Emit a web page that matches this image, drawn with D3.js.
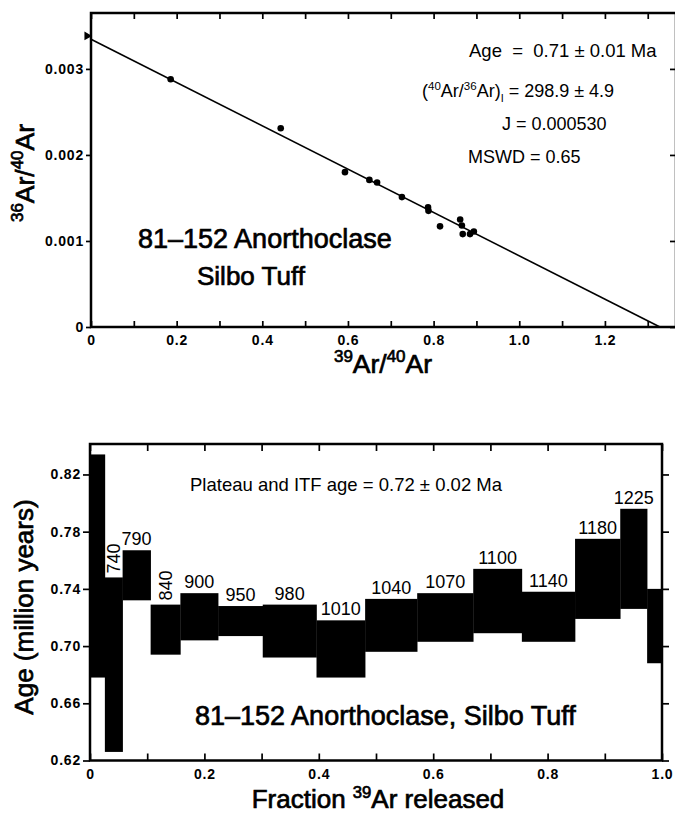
<!DOCTYPE html>
<html>
<head>
<meta charset="utf-8">
<title>81-152 Anorthoclase, Silbo Tuff</title>
<script src="https://d3js.org/d3.v7.min.js"></script>
<style>
  body { margin: 0; background: #fff; }
  svg { display: block; font-family: "Liberation Sans", Arial, Helvetica, sans-serif; }
  .axis path { display: none; }
  .axis line { stroke: #000; stroke-width: 1.7; }
  .axis text { font-size: 14px; font-weight: bold; fill: #000; letter-spacing: 0.8px; }
  .frame { fill: none; stroke: #000; stroke-width: 2.5; }
  .label { fill: #000; white-space: pre; }
  .big { stroke: #000; stroke-width: 0.7px; }
</style>
</head>
<body>
<svg width="675" height="814"></svg>
<script>
// isochron points (39Ar/40Ar, 36Ar/40Ar)
const isoX = [0.186, 0.443, 0.593, 0.650, 0.668, 0.726, 0.787, 0.788, 0.815, 0.862, 0.866, 0.868, 0.885, 0.894];
const isoY = [0.00288, 0.00231, 0.00180, 0.00171, 0.00168, 0.00151, 0.00139, 0.00135, 0.00117, 0.00125, 0.00118, 0.00108, 0.00108, 0.00111];
const fitYIntercept = 1 / 298.9;   // (36Ar/40Ar) at x = 0
const fitXIntercept = 1.3285;
const atmRatio = 1 / 295.5;

// age spectrum steps
const stepEnd = [0.026, 0.057, 0.106, 0.158, 0.224, 0.302, 0.396, 0.481, 0.572, 0.670, 0.755, 0.848, 0.927, 0.974, 1.0];
const stepHi  = [0.834, 0.748, 0.767, 0.729, 0.737, 0.728, 0.729, 0.718, 0.733, 0.737, 0.754, 0.738, 0.775, 0.796, 0.740];
const stepLo  = [0.678, 0.626, 0.732, 0.694, 0.704, 0.707, 0.692, 0.678, 0.696, 0.703, 0.709, 0.703, 0.719, 0.726, 0.688];
const stepTemp = ["", "740", "790", "840", "900", "950", "980", "1010", "1040", "1070", "1100", "1140", "1180", "1225", ""];
const verticalTemps = ["740", "840"];

const topXTicks = d3.range(0, 14).map(i => i / 10);
const topYTicks = [0, 0.001, 0.002, 0.003];
const botXTicks = d3.range(0, 11).map(i => i / 10);
const botYTicks = [0.62, 0.66, 0.70, 0.74, 0.78, 0.82];

const svg = d3.select("svg");

// little helper for text with superscripts / subscripts
function richText(g, x, y, parts, size, anchor, cls) {
  const t = g.append("text").attr("class", "label " + (cls || ""))
    .attr("x", x).attr("y", y)
    .attr("font-size", size)
    .attr("text-anchor", anchor || "start");
  parts.forEach(p => {
    const s = t.append("tspan").text(p[0]);
    if (p[1] === "sup") s.attr("font-size", size * 0.64).attr("baseline-shift", size * 0.4);
    if (p[1] === "sub") s.attr("font-size", size * 0.6).attr("baseline-shift", -size * 0.25);
  });
  return t;
}

const evenLabel = fmt => (d, i) => (i % 2 === 0 ? (d === 0 ? "0" : fmt(d)) : "");

// ---------------- upper panel: isochron ----------------
const x1 = d3.scaleLinear().domain([0, 1.366]).range([91, 676]);
const y1 = d3.scaleLinear().domain([0, 0.00365]).range([327, 13]);

const upper = svg.append("g");

upper.append("g").attr("class", "axis")
  .attr("transform", `translate(0,${y1(0)})`)
  .call(d3.axisBottom(x1).tickValues(topXTicks).tickSize(-6).tickPadding(8)
    .tickFormat(evenLabel(d3.format(".1f"))));
upper.append("g").attr("class", "axis")
  .attr("transform", `translate(0,${y1.range()[1]})`)
  .call(d3.axisTop(x1).tickValues(topXTicks).tickSize(-6).tickFormat(""));
upper.append("g").attr("class", "axis")
  .attr("transform", `translate(${x1(0)},0)`)
  .call(d3.axisLeft(y1).tickValues(topYTicks).tickSize(5).tickPadding(2)
    .tickFormat(d => d === 0 ? "0" : d3.format(".3f")(d)));
upper.append("g").attr("class", "axis")
  .attr("transform", `translate(${x1.range()[1]},0)`)
  .call(d3.axisRight(y1).tickValues(topYTicks).tickSize(-6).tickFormat(""));

upper.append("rect").attr("class", "frame")
  .attr("x", x1(0)).attr("y", y1.range()[1])
  .attr("width", x1.range()[1] - x1(0)).attr("height", y1(0) - y1.range()[1]);

upper.append("line")
  .attr("x1", x1(0)).attr("y1", y1(fitYIntercept))
  .attr("x2", x1(fitXIntercept)).attr("y2", y1(0))
  .attr("stroke", "#000").attr("stroke-width", 1.6);

upper.append("path")
  .attr("d", d3.symbol(d3.symbolTriangle, 34)())
  .attr("transform", `translate(${x1(0) - 4},${y1(atmRatio)}) rotate(90)`)
  .attr("fill", "#000");

upper.selectAll(".dot").data(isoX).join("circle")
  .attr("class", "dot")
  .attr("cx", d => x1(d))
  .attr("cy", (d, i) => y1(isoY[i]))
  .attr("r", 3.3)
  .attr("fill", "#000");

richText(upper, 383, 373, [["39", "sup"], ["Ar/"], ["40", "sup"], ["Ar"]], 26.5, "middle", "big");
richText(upper.append("g").attr("transform", "translate(34,173) rotate(-90)"), 0, 0,
  [["36", "sup"], ["Ar/"], ["40", "sup"], ["Ar"]], 26.5, "middle", "big");

richText(upper, 469, 57, [["Age  =  0.71 ± 0.01 Ma"]], 18.5);
richText(upper, 422, 97, [["("], ["40", "sup"], ["Ar/"], ["36", "sup"], ["Ar)"], ["I", "sub"], [" = 298.9 ± 4.9"]], 18);
richText(upper, 502, 130, [["J = 0.000530"]], 18);
richText(upper, 468, 163, [["MSWD = 0.65"]], 18);

richText(upper, 138, 248, [["81–152 Anorthoclase"]], 27, "start", "big");
richText(upper, 197, 285, [["Silbo Tuff"]], 26, "start", "big");

// ---------------- lower panel: age spectrum ----------------
const x2 = d3.scaleLinear().domain([0, 1]).range([90, 662]);
const y2 = d3.scaleLinear().domain([0.62, 0.8413]).range([760.5, 444]);

const lower = svg.append("g");

const steps = stepEnd.map((e, i) => ({
  x0: i === 0 ? 0 : stepEnd[i - 1], x1: e, hi: stepHi[i], lo: stepLo[i], t: stepTemp[i]
}));

lower.selectAll(".step").data(steps).join("rect")
  .attr("class", "step")
  .attr("x", d => x2(d.x0))
  .attr("width", d => x2(d.x1) - x2(d.x0) + 0.3)
  .attr("y", d => y2(d.hi))
  .attr("height", d => y2(d.lo) - y2(d.hi))
  .attr("fill", "#000");

lower.selectAll(".temp").data(steps.filter(d => d.t)).join("text")
  .attr("class", "temp label")
  .attr("font-size", 18)
  .attr("text-anchor", d => verticalTemps.includes(d.t) ? "start" : "middle")
  .attr("transform", d => {
    const cx = (x2(d.x0) + x2(d.x1)) / 2;
    return verticalTemps.includes(d.t)
      ? `translate(${cx + 6},${y2(d.hi) - 4}) rotate(-90)`
      : `translate(${cx},${y2(d.hi) - 5})`;
  })
  .text(d => d.t);

lower.append("g").attr("class", "axis")
  .attr("transform", `translate(0,${y2(0.62)})`)
  .call(d3.axisBottom(x2).tickValues(botXTicks).tickSize(-7).tickPadding(9)
    .tickFormat(evenLabel(d3.format(".1f"))));
lower.append("g").attr("class", "axis")
  .attr("transform", `translate(0,${y2.range()[1]})`)
  .call(d3.axisTop(x2).tickValues(botXTicks).tickSize(-7).tickFormat(""));
lower.append("g").attr("class", "axis")
  .attr("transform", `translate(${x2(0)},0)`)
  .call(d3.axisLeft(y2).tickValues(botYTicks).tickSize(7).tickPadding(2)
    .tickFormat(d3.format(".2f")));
lower.append("g").attr("class", "axis")
  .attr("transform", `translate(${x2(1)},0)`)
  .call(d3.axisRight(y2).tickValues(botYTicks).tickSize(7).tickFormat(""));

lower.append("rect").attr("class", "frame")
  .attr("x", x2(0)).attr("y", y2.range()[1])
  .attr("width", x2(1) - x2(0)).attr("height", y2(0.62) - y2.range()[1])
  .attr("stroke-width", 2.2);

richText(lower, 190, 491, [["Plateau and ITF age = 0.72 ± 0.02 Ma"]], 18.5);
richText(lower, 195, 725, [["81–152 Anorthoclase, Silbo Tuff"]], 27, "start", "big");

richText(lower, 378, 808, [["Fraction "], ["39", "sup"], ["Ar released"]], 26, "middle", "big");
richText(lower.append("g").attr("transform", "translate(33,607) rotate(-90)"), 0, 0,
  [["Age (million years)"]], 26, "middle", "big");
</script>
</body>
</html>
